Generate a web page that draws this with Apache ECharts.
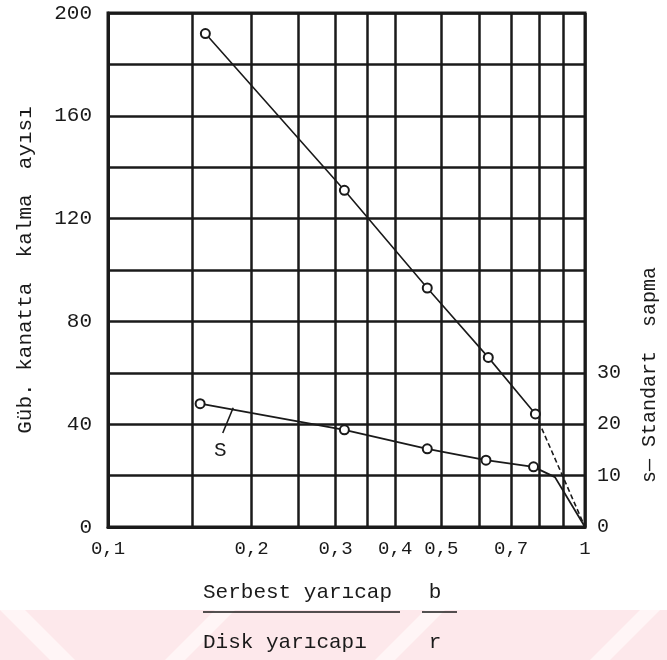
<!DOCTYPE html>
<html>
<head>
<meta charset="utf-8">
<script src="https://cdn.jsdelivr.net/npm/echarts@6/dist/echarts.min.js"></script>
<style>
html,body{margin:0;padding:0;background:#fff;}
#graph{width:667px;height:660px;}
</style>
</head>
<body>
<div id="graph"></div>
<script>
// b/r oranı ve gübre kanatta kalma sayısı
var brMain = [0.16, 0.313, 0.467, 0.627, 0.787];
var countMain = [192, 131, 93, 66, 44];
var brTail = [0.787, 1];
var countTail = [44, 0];
// standart sapma (sağ eksen)
var brS = [0.156, 0.313, 0.467, 0.62, 0.78, 0.865, 1];
var sDev = [24, 18.9, 15.2, 13.0, 11.7, 9.7, 0];
var sMarked = 5; // ilk 5 noktada daire var

var xGridValues = [0.1, 0.15, 0.2, 0.25, 0.3, 0.35, 0.4, 0.5, 0.6, 0.7, 0.8, 0.9, 1];
var xLabelValues = [0.1, 0.2, 0.3, 0.4, 0.5, 0.7, 1];
var leftLabels = [0, 40, 80, 120, 160, 200];
var rightLabels = [0, 10, 20, 30];

var FONT = 'Liberation Mono';
var INK = '#1a1a1a';

function pairs(xs, ys){
    var out = [];
    for(var i=0;i<xs.length;i++){ out.push([xs[i], ys[i]]); }
    return out;
}

var sData = pairs(brS, sDev).map(function(p, i){
    return {value: p, symbol: i < sMarked ? 'emptyCircle' : 'none'};
});

var chart = echarts.init(document.getElementById('graph'), null, {renderer:'canvas'});
var option = {
    backgroundColor: '#fff',
    animation: false,
    grid: {
        left: 108, right: 82, top: 13, bottom: 133,
        show: true, borderColor: INK, borderWidth: 3
    },
    xAxis: {
        type: 'log', logBase: 10, min: 0.1, max: 1,
        axisLine: {show: true, lineStyle: {color: INK, width: 3}},
        axisTick: {show: false, customValues: xGridValues},
        splitLine: {show: true, lineStyle: {color: INK, width: 2.5}},
        minorSplitLine: {show: false},
        axisLabel: {
            customValues: xLabelValues,
            margin: 12,
            fontFamily: FONT, fontSize: 19, color: INK,
            formatter: function(v){ return String(+v.toFixed(2)).replace('.', ','); }
        }
    },
    yAxis: [
        {
            type: 'value', min: 0, max: 200, interval: 20,
            name: 'Güb. kanatta  kalma  ayısı',
            nameLocation: 'middle', nameGap: 72,
            nameTextStyle: {fontFamily: FONT, fontSize: 21, color: INK},
            axisLine: {show: true, lineStyle: {color: INK, width: 3}},
            axisTick: {show: false},
            splitLine: {show: true, lineStyle: {color: INK, width: 2.5}},
            axisLabel: {
                margin: 16, fontFamily: FONT, fontSize: 21, color: INK,
                padding: [0, 0, 16, 0],
                formatter: function(v){ return leftLabels.indexOf(v) >= 0 ? String(v) : ''; }
            }
        },
        {
            type: 'value', min: 0, max: 100, interval: 10, position: 'right',
            axisLine: {show: false},
            axisTick: {show: false},
            splitLine: {show: false},
            axisLabel: {
                margin: 12, fontFamily: FONT, fontSize: 20, color: INK,
                formatter: function(v){ return rightLabels.indexOf(v) >= 0 ? String(v) : ''; }
            }
        }
    ],
    series: [
        {
            name: 'sayi', type: 'line', yAxisIndex: 0,
            data: pairs(brMain, countMain),
            symbol: 'emptyCircle', symbolSize: 9,
            lineStyle: {color: INK, width: 1.6},
            itemStyle: {color: INK, borderColor: INK, borderWidth: 1.6},
            z: 5
        },
        {
            name: 'sayi-son', type: 'line', yAxisIndex: 0,
            data: pairs(brTail, countTail),
            symbol: 'none',
            lineStyle: {color: INK, width: 1.6, type: [5, 3]},
            z: 5
        },
        {
            name: 'S', type: 'line', yAxisIndex: 1,
            data: sData,
            symbolSize: 9,
            lineStyle: {color: INK, width: 1.8},
            itemStyle: {color: INK, borderColor: INK, borderWidth: 1.6},
            z: 5,
            markLine: {
                silent: true, symbol: 'none', animation: false,
                lineStyle: {color: INK, width: 1.6, type: 'solid'},
                label: {show: false},
                data: [[{coord: [0.183, 23.2]}, {coord: [0.174, 18.3]}]]
            },
            markPoint: {
                silent: true, symbol: 'circle', symbolSize: 1,
                itemStyle: {color: 'rgba(0,0,0,0)'},
                label: {show: true, position: 'inside', formatter: 'S',
                    fontFamily: FONT, fontSize: 21, color: INK},
                data: [{coord: [0.172, 14.8]}]
            }
        }
    ],
    graphic: [
        {type: 'rect', silent: true, z: -10, shape: {x: 0, y: 610, width: 667, height: 50},
            style: {fill: '#fde8eb'}},
        {type: 'polygon', silent: true, z: -9, shape: {points: [[0,610],[25,610],[75,660],[50,660]]}, style: {fill: '#fff5f6'}},
        {type: 'polygon', silent: true, z: -9, shape: {points: [[215,610],[235,610],[185,660],[165,660]]}, style: {fill: '#fff5f6'}},
        {type: 'polygon', silent: true, z: -9, shape: {points: [[425,610],[445,610],[395,660],[375,660]]}, style: {fill: '#fff5f6'}},
        {type: 'polygon', silent: true, z: -9, shape: {points: [[640,610],[660,610],[610,660],[590,660]]}, style: {fill: '#fff5f6'}},
        {type: 'text', silent: true, x: 650, y: 375, rotation: Math.PI / 2,
            style: {text: 's\u2014 Standart  sapma', font: '20px "Liberation Mono"', fill: INK,
                align: 'center', verticalAlign: 'middle'}},
        {type: 'text', silent: true, x: 203, y: 592,
            style: {text: 'Serbest yarıcap', font: '21px "Liberation Mono"', fill: INK,
                align: 'left', verticalAlign: 'middle'}},
        {type: 'text', silent: true, x: 435, y: 592,
            style: {text: 'b', font: '21px "Liberation Mono"', fill: INK,
                align: 'center', verticalAlign: 'middle'}},
        {type: 'line', silent: true, shape: {x1: 203, y1: 612, x2: 400, y2: 612},
            style: {stroke: INK, lineWidth: 1.6}},
        {type: 'line', silent: true, shape: {x1: 422, y1: 612, x2: 457, y2: 612},
            style: {stroke: INK, lineWidth: 1.6}},
        {type: 'text', silent: true, x: 203, y: 642,
            style: {text: 'Disk yarıcapı', font: '21px "Liberation Mono"', fill: INK,
                align: 'left', verticalAlign: 'middle'}},
        {type: 'text', silent: true, x: 435, y: 642,
            style: {text: 'r', font: '21px "Liberation Mono"', fill: INK,
                align: 'center', verticalAlign: 'middle'}}
    ]
};
chart.setOption(option);
</script>
</body>
</html>
